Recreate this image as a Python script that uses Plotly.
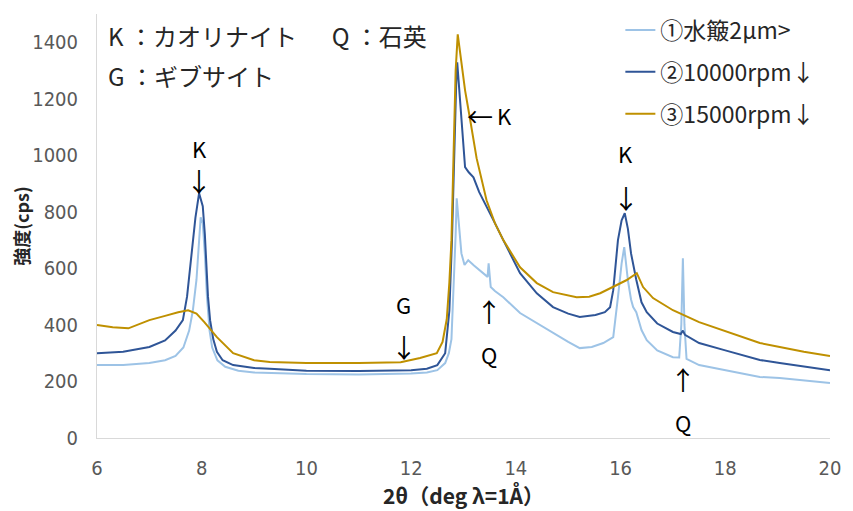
import plotly.graph_objects as go

# ---- data ----
names = ["①水簸2μm>", "②10000rpm↓", "③15000rpm↓"]
colors = ["#9DC3E6", "#2F5597", "#BF9000"]

x1 = [6.0, 6.5, 7.0, 7.3, 7.5, 7.65, 7.76, 7.83, 7.9, 7.95, 7.98, 8.02, 8.06, 8.1, 8.15, 8.2, 8.3, 8.45, 8.7, 9.0,
      9.5, 10.0, 11.0, 11.5, 12.0, 12.3, 12.5, 12.65, 12.72, 12.77, 12.82, 12.85, 12.87, 12.9, 12.96, 13.02, 13.09,
      13.2, 13.35, 13.46, 13.48, 13.5, 13.52, 13.6, 13.76, 14.08, 14.4, 14.71, 15.0, 15.22, 15.45, 15.67, 15.8, 15.86,
      15.95, 16.02, 16.07, 16.14, 16.2, 16.24, 16.3, 16.4, 16.5, 16.7, 17.0, 17.12, 17.16, 17.19, 17.22, 17.26, 17.5,
      18.0, 18.66, 19.04, 19.5, 20.0]
y1 = [258, 258, 265, 275, 290, 320, 380, 450, 560, 700, 781, 760, 650, 500, 380, 320, 275, 252, 238, 232,
      228, 226, 225, 226, 228, 232, 240, 265, 300, 350, 550, 720, 848, 790, 653, 612, 629,
      610, 585, 570, 618, 560, 534, 520, 498, 442, 406, 371, 340, 318, 322, 336, 350, 357,
      498, 618, 675, 558, 490, 463, 445, 382, 346, 310, 286, 285, 400, 636, 400, 280, 258,
      240, 216, 212, 205, 195]

x2 = [6.0, 6.5, 7.0, 7.3, 7.5, 7.64, 7.72, 7.81, 7.88, 7.95, 8.02, 8.06, 8.09, 8.12, 8.16, 8.22, 8.29, 8.4, 8.6, 9.0,
      9.3, 10.0, 11.0, 12.0, 12.3, 12.5, 12.65, 12.73, 12.78, 12.82, 12.86, 12.88, 12.93, 12.98, 13.03, 13.1, 13.19,
      13.3, 13.44, 13.6, 13.76, 14.08, 14.4, 14.71, 15.0, 15.22, 15.52, 15.7, 15.8, 15.86, 15.95, 16.02, 16.08, 16.14,
      16.2, 16.25, 16.3, 16.4, 16.5, 16.7, 17.0, 17.15, 17.19, 17.23, 17.5, 18.0, 18.66, 19.04, 19.5, 20.0]
y2 = [300, 305, 322, 345, 380, 417, 500, 653, 780, 866, 820, 720, 620, 500, 417, 350, 305, 275, 258, 248,
      245, 238, 237, 240, 245, 258, 300, 450, 700, 1000, 1250, 1329, 1200, 1080, 958, 940, 922,
      870, 816, 760, 700, 583, 512, 463, 440, 428, 435, 445, 463, 523, 700, 770, 795, 740,
      653, 600, 560, 480, 445, 405, 375, 368, 380, 365, 336, 310, 276, 265, 252, 240]

x3 = [6.0, 6.3, 6.6, 7.0, 7.3, 7.55, 7.74, 7.9, 8.05, 8.29, 8.6, 9.0, 9.3, 10.0, 11.0, 11.8, 12.17, 12.49, 12.6,
      12.68, 12.73, 12.77, 12.81, 12.85, 12.89, 12.95, 13.03, 13.12, 13.25, 13.44, 13.6, 13.76, 14.08, 14.4, 14.71,
      15.16, 15.4, 15.61, 15.86, 16.11, 16.31, 16.43, 16.62, 17.0, 17.5, 18.0, 18.66, 19.04, 19.5, 20.0]
y3 = [400, 392, 388, 417, 432, 445, 452, 440, 410, 357, 300, 275, 269, 265, 265, 268, 283, 300, 340,
      420, 550, 700, 1000, 1300, 1428, 1340, 1230, 1134, 990, 841, 760, 700, 604, 548, 516,
      498, 500, 512, 534, 558, 583, 534, 495, 452, 410, 378, 336, 322, 305, 290]

# annotation labels: (text, x, y, size)
labels = [
    ("K", 7.95, 1026, 22), ("↓", 7.95, 910, 26),
    ("←", 13.31, 1141, 26), ("K", 13.79, 1141, 22),
    ("G", 11.86, 474, 22), ("↓", 11.86, 324, 26),
    ("↑", 13.49, 452, 26), ("Q", 13.49, 298, 22),
    ("K", 16.10, 1008, 22), ("↓", 16.10, 852, 26),
    ("↑", 17.19, 210, 26), ("Q", 17.19, 56, 22),
]
legend_text = ["K ：カオリナイト　  Q ：石英", "G ：ギブサイト"]

FONT = "Noto Sans CJK JP, Noto Sans, sans-serif"
NARROW = "Liberation Sans Narrow, DejaVu Sans Condensed, sans-serif"

fig = go.Figure()
for i, (xs, ys) in enumerate([(x1, y1), (x2, y2), (x3, y3)]):
    fig.add_trace(go.Scatter(x=xs, y=ys, mode="lines", name=names[i], legendgroup=f"g{i}",
                             line=dict(color=colors[i], width=2)))

for t, x, y, s in labels:
    fig.add_annotation(x=x, y=y, text=t, showarrow=False, xref="x", yref="y",
                       font=dict(size=s, color="#000000", family=FONT))

fig.add_annotation(x=0.012, y=0.95, xref="paper", yref="paper", text=legend_text[0], showarrow=False,
                   xanchor="left", yanchor="middle", font=dict(size=24, color="#262626", family=FONT))
fig.add_annotation(x=0.012, y=0.856, xref="paper", yref="paper", text=legend_text[1], showarrow=False,
                   xanchor="left", yanchor="middle", font=dict(size=24, color="#262626", family=FONT))

# page body has an 8px margin: shift the plot area up/left accordingly
fig.update_layout(
    width=853, height=511,
    margin=dict(l=89, r=31, t=6, b=81, autoexpand=False),
    paper_bgcolor="white", plot_bgcolor="white",
    font=dict(family=FONT, color="#595959"),
    legend=dict(x=0.714, y=1.013, xanchor="left", yanchor="top", bgcolor="rgba(0,0,0,0)",
                font=dict(size=23, color="#262626", family=FONT), tracegroupgap=9, itemwidth=30),
    xaxis=dict(range=[6, 20], dtick=2, showgrid=False, zeroline=False, showline=True, automargin=False,
               linecolor="#d9d9d9", linewidth=1, ticks="", tickfont=dict(size=20, color="#595959", family=NARROW),
               ticklabelstandoff=12,
               title=dict(text="<b>2θ（deg λ=1Å）</b>", font=dict(size=21, color="#262626", family=FONT), standoff=10)),
    yaxis=dict(range=[0, 1500], dtick=200, showgrid=False, zeroline=False, showline=True, automargin=False,
               linecolor="#d9d9d9", linewidth=1, ticks="", tickfont=dict(size=20, color="#595959", family=NARROW),
               ticklabelstandoff=14,
               title=dict(text="<b>強度(cps)</b>", font=dict(size=18, color="#262626", family=FONT), standoff=14)),
)

fig.write_html("out.html")
